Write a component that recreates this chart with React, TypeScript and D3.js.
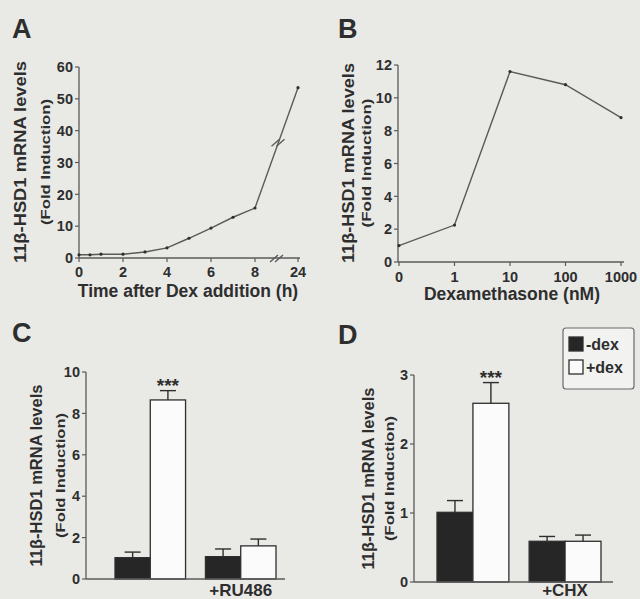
import React from "react";
import * as d3 from "d3";

// Panel A: time course
const timeHours = [0, 0.5, 1, 2, 3, 4, 5, 6, 7, 8, 24];
const timeFold = [1.0, 1.0, 1.2, 1.2, 1.9, 3.2, 6.2, 9.4, 12.8, 15.7, 53.5];
const timeXTicks = [0, 2, 4, 6, 8, 24];
const timeYTicks = [0, 10, 20, 30, 40, 50, 60];

// Panel B: dose response
const doseLabels = ["0", "1", "10", "100", "1000"];
const doseFold = [1.0, 2.25, 11.6, 10.8, 8.8];
const doseYTicks = [0, 2, 4, 6, 8, 10, 12];

// Panel C: RU486
const ruGroups = ["ctrl", "+RU486"];
const ruMinusDex = [1.03, 1.08];
const ruMinusErr = [0.27, 0.37];
const ruPlusDex = [8.65, 1.6];
const ruPlusErr = [0.45, 0.33];
const ruYTicks = [0, 2, 4, 6, 8, 10];

// Panel D: CHX
const chxGroups = ["ctrl", "+CHX"];
const chxMinusDex = [1.01, 0.59];
const chxMinusErr = [0.17, 0.07];
const chxPlusDex = [2.59, 0.59];
const chxPlusErr = [0.3, 0.09];
const chxYTicks = [0, 1, 2, 3];

const legendLabels = ["-dex", "+dex"];

const INK = "#2e2e2e";
const LINE = "#5a5a5a";
const FONT = "'Liberation Sans', Arial, Helvetica, sans-serif";

const YAxis = ({ x, scale, ticks }) => (
  <g>
    <line x1={x} x2={x} y1={scale(d3.max(ticks))} y2={scale(0)} stroke={LINE} strokeWidth={1.3} />
    {ticks.map((t) => (
      <g key={t}>
        <line x1={x - 4} x2={x} y1={scale(t)} y2={scale(t)} stroke={LINE} strokeWidth={1.2} />
        <text x={x - 6} y={scale(t)} dy="0.36em" textAnchor="end" fontSize={14.5} fontWeight="bold" fill={INK}>
          {t}
        </text>
      </g>
    ))}
  </g>
);

const YTitle = ({ x1, x2, cy, len1, len2 }) => (
  <g fontWeight="bold" fill={INK}>
    <text
      transform={`translate(${x1},${cy}) rotate(-90)`}
      textAnchor="middle"
      dy="0.36em"
      fontSize={17}
      textLength={len1}
      lengthAdjust="spacingAndGlyphs"
    >
      11β-HSD1 mRNA levels
    </text>
    <text
      transform={`translate(${x2},${cy}) rotate(-90)`}
      textAnchor="middle"
      dy="0.36em"
      fontSize={13.5}
      textLength={len2}
      lengthAdjust="spacingAndGlyphs"
    >
      (Fold Induction)
    </text>
  </g>
);

const BreakMark = ({ x, y }) => (
  <g stroke={LINE} strokeWidth={1.4}>
    <line x1={x - 7} x2={x + 1} y1={y + 4} y2={y - 3} />
    <line x1={x - 2} x2={x + 6} y1={y + 4} y2={y - 3} />
  </g>
);

const PanelA = () => {
  const x = d3.scaleLinear().domain([0, 8, 24]).range([79, 255, 298]);
  const y = d3.scaleLinear().domain([0, 60]).range([258, 67]);
  const pts = timeHours.map((h, i) => [x(h), y(timeFold[i])]);
  const line = d3.line();
  const bx = (x(8) + x(24)) / 2 + 2;
  const by = y(timeFold[9]) + ((bx - x(8)) / (x(24) - x(8))) * (y(timeFold[10]) - y(timeFold[9]));
  return (
    <g>
      <YAxis x={79} scale={y} ticks={timeYTicks} />
      <line x1={79} x2={300} y1={y(0)} y2={y(0)} stroke={LINE} strokeWidth={1.3} />
      {timeXTicks.map((t) => (
        <g key={t}>
          <line x1={x(t)} x2={x(t)} y1={y(0)} y2={y(0) + 4} stroke={LINE} strokeWidth={1.2} />
          <text x={x(t)} y={y(0) + 19} textAnchor="middle" fontSize={14.5} fontWeight="bold" fill={INK}>
            {t}
          </text>
        </g>
      ))}
      <path d={line(pts)} fill="none" stroke={LINE} strokeWidth={1.4} />
      {pts.map((p, i) => (
        <circle key={i} cx={p[0]} cy={p[1]} r={1.6} fill={INK} />
      ))}
      <BreakMark x={bx} y={by} />
      <BreakMark x={x(8) + 22} y={y(0)} />
      <text x={188} y={297} textAnchor="middle" fontSize={17.5} fontWeight="bold" fill={INK}>
        Time after Dex addition (h)
      </text>
      <YTitle x1={20} x2={45} cy={162} len1={202} len2={126} />
      <text x={12} y={38} fontSize={27} fontWeight="bold" fill={INK}>A</text>
    </g>
  );
};

const PanelB = () => {
  const x = d3.scalePoint().domain(doseLabels).range([399, 621]);
  const y = d3.scaleLinear().domain([0, 12]).range([262, 65]);
  const line = d3
    .line()
    .x((d, i) => x(doseLabels[i]))
    .y((d) => y(d));
  return (
    <g>
      <YAxis x={398} scale={y} ticks={doseYTicks} />
      <line x1={398} x2={624} y1={y(0)} y2={y(0)} stroke={LINE} strokeWidth={1.3} />
      {doseLabels.map((t) => (
        <g key={t}>
          <line x1={x(t)} x2={x(t)} y1={y(0)} y2={y(0) + 4} stroke={LINE} strokeWidth={1.2} />
          <text x={x(t)} y={y(0) + 20} textAnchor="middle" fontSize={14.5} fontWeight="bold" fill={INK}>
            {t}
          </text>
        </g>
      ))}
      <path d={line(doseFold)} fill="none" stroke={LINE} strokeWidth={1.4} />
      {doseFold.map((v, i) => (
        <circle key={i} cx={x(doseLabels[i])} cy={y(v)} r={1.6} fill={INK} />
      ))}
      <text x={512} y={300} textAnchor="middle" fontSize={17.5} fontWeight="bold" fill={INK}>
        Dexamethasone (nM)
      </text>
      <YTitle x1={348} x2={366} cy={163} len1={200} len2={129} />
      <text x={338} y={38} fontSize={27} fontWeight="bold" fill={INK}>B</text>
    </g>
  );
};

const BarPanel = ({ groups, minus, minusErr, plus, plusErr, ticks, yMax, axisX, xRange, xEnd, yRange, letter, letterX, letterY, titleX, fold }) => {
  const x0 = d3.scaleBand().domain(groups).range(xRange).paddingInner(0.22);
  const x1 = d3.scaleBand().domain(["-", "+"]).range([0, x0.bandwidth()]);
  const y = d3.scaleLinear().domain([0, yMax]).range(yRange);
  const cap = 8;
  const series = [
    { key: "-", values: minus, err: minusErr, fill: "#262626" },
    { key: "+", values: plus, err: plusErr, fill: "#fbfbfb" },
  ];
  return (
    <g>
      {series.map((s) =>
        groups.map((g, i) => {
          const bx = x0(g) + x1(s.key);
          const cx = bx + x1.bandwidth() / 2;
          const top = y(s.values[i]);
          const et = y(s.values[i] + s.err[i]);
          return (
            <g key={s.key + g}>
              <line x1={cx} x2={cx} y1={top} y2={et} stroke={INK} strokeWidth={1.4} />
              <line x1={cx - cap} x2={cx + cap} y1={et} y2={et} stroke={INK} strokeWidth={1.4} />
              <rect x={bx} y={top} width={x1.bandwidth()} height={y(0) - top} fill={s.fill} stroke={INK} strokeWidth={1.3} />
            </g>
          );
        })
      )}
      <text
        x={x0(groups[0]) + x1("+") + x1.bandwidth() / 2}
        y={y(plus[0] + plusErr[0]) + 1}
        textAnchor="middle"
        fontSize={19}
        fontWeight="bold"
        fill={INK}
      >
        ***
      </text>
      <YAxis x={axisX} scale={y} ticks={ticks} />
      <line x1={axisX} x2={xEnd} y1={y(0)} y2={y(0)} stroke={LINE} strokeWidth={1.3} />
      <text x={x0(groups[1]) + x0.bandwidth() / 2} y={596} textAnchor="middle" fontSize={17} fontWeight="bold" fill={INK}>
        {groups[1]}
      </text>
      <YTitle x1={titleX} x2={fold} cy={(y(0) + y(yMax)) / 2} len1={182} len2={125} />
      <text x={letterX} y={letterY} fontSize={27} fontWeight="bold" fill={INK}>{letter}</text>
    </g>
  );
};

const Legend = ({ x, y }) => (
  <g>
    <rect x={x} y={y} width={71} height={61} rx={3} fill="#f2f2f0" stroke="#6a6a6a" strokeWidth={1.2} />
    {legendLabels.map((l, i) => (
      <g key={l} transform={`translate(${x + 6},${y + 9 + i * 23})`}>
        <rect width={14} height={14} fill={i === 0 ? "#262626" : "#fbfbfb"} stroke={INK} strokeWidth={1.3} />
        <text x={17} y={12.5} fontSize={16} fontWeight="bold" fill={INK}>{l}</text>
      </g>
    ))}
  </g>
);

export default function App() {
  return (
    <div style={{ position: "absolute", left: 0, top: 0 }}>
      <svg width={640} height={599} fontFamily={FONT} style={{ display: "block" }}>
        <rect width={640} height={599} fill="#e9e9e6" />
        <PanelA />
        <PanelB />
        <BarPanel
          groups={ruGroups}
          minus={ruMinusDex}
          minusErr={ruMinusErr}
          plus={ruPlusDex}
          plusErr={ruPlusErr}
          ticks={ruYTicks}
          yMax={10}
          axisX={86}
          xRange={[115, 276]}
          xEnd={285}
          yRange={[579, 372]}
          letter="C"
          letterX={12}
          letterY={342}
          titleX={36}
          fold={60}
        />
        <BarPanel
          groups={chxGroups}
          minus={chxMinusDex}
          minusErr={chxMinusErr}
          plus={chxPlusDex}
          plusErr={chxPlusErr}
          ticks={chxYTicks}
          yMax={3}
          axisX={414}
          xRange={[437, 601]}
          xEnd={613}
          yRange={[582, 375]}
          letter="D"
          letterX={338}
          letterY={344}
          titleX={368}
          fold={389}
        />
        <Legend x={563} y={328} />
      </svg>
    </div>
  );
}
